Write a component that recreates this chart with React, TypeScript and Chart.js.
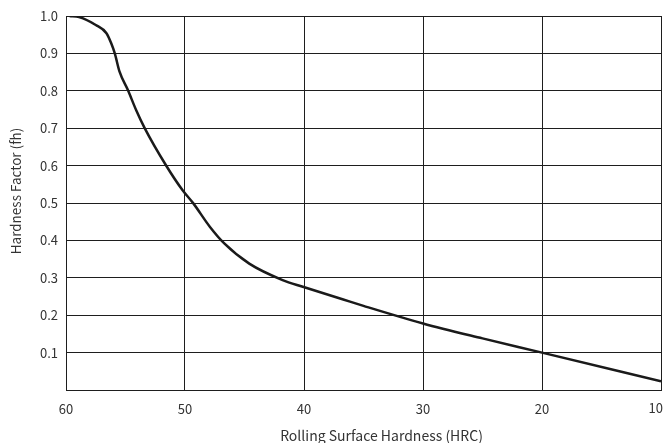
import React, { useEffect, useRef } from "react";
import { Chart, registerables } from "chart.js";

Chart.register(...registerables);

const hardness = [59.7, 58.9, 57.5, 56.6, 56.2, 55.9, 55.5, 54.8, 54.1, 53.4, 51.6, 50.2, 49.3, 47.9, 46.7, 44.6, 41.8, 40.1, 36.7, 35, 30, 25, 20, 10];
const factor = [1.0, 0.997, 0.976, 0.954, 0.927, 0.9, 0.851, 0.802, 0.748, 0.701, 0.601, 0.534, 0.499, 0.436, 0.392, 0.338, 0.294, 0.276, 0.242, 0.225, 0.178, 0.138, 0.1, 0.023];
const xTitle = "Rolling Surface Hardness (HRC)";
const yTitle = "Hardness Factor (fh)";
const xMin = 10;
const xMax = 60;

const FONT = "'Noto Sans CJK SC', 'Noto Sans', sans-serif";
const TEXT = "#333333";
const GRID = "#1e1e1e";

const titlePlugin = {
  id: "customTitles",
  afterDraw(chart: any) {
    const ctx = chart.ctx;
    const xs = chart.scales.x;
    const area = chart.chartArea;
    ctx.save();
    ctx.fillStyle = TEXT;
    // last x tick label, kept inside the canvas
    ctx.font = `13px ${FONT}`;
    ctx.textAlign = "right";
    ctx.textBaseline = "middle";
    ctx.fillText(String(xMin), chart.width, area.bottom + 18);
    // x title
    ctx.font = `14px ${FONT}`;
    ctx.textAlign = "center";
    ctx.textBaseline = "middle";
    ctx.fillText(xTitle, (xs.left + xs.right) / 2 + 18, 436);
    // y title
    ctx.font = `13.5px ${FONT}`;
    ctx.translate(16, (area.top + area.bottom) / 2 - 12);
    ctx.rotate(-Math.PI / 2);
    ctx.fillText(yTitle, 0, 0);
    ctx.restore();
  },
};

export default function App() {
  const ref = useRef<HTMLCanvasElement | null>(null);
  useEffect(() => {
    if (!ref.current) return;
    const chart = new Chart(ref.current, {
      type: "line",
      data: {
        datasets: [
          {
            data: hardness.map((h, i) => ({ x: h, y: factor[i] })),
            borderColor: "#1a1a1a",
            borderWidth: 2.5,
            pointRadius: 0,
            cubicInterpolationMode: "monotone",
            fill: false,
          },
        ],
      },
      plugins: [titlePlugin],
      options: {
        animation: false,
        responsive: false,
        maintainAspectRatio: false,
        layout: { padding: { top: 16, right: 2, left: 0, bottom: 0 } },
        plugins: { legend: { display: false }, tooltip: { enabled: false } },
        scales: {
          x: {
            type: "linear",
            reverse: true,
            min: xMin,
            max: xMax,
            border: { color: GRID, width: 1 },
            grid: { color: GRID, lineWidth: 1, drawTicks: false },
            ticks: {
              stepSize: 10,
              padding: 11,
              maxRotation: 0,
              color: TEXT,
              font: { family: FONT, size: 13 },
              callback: (v: any) => (Number(v) === xMin ? "" : String(v)),
            },
            afterFit: (s: any) => {
              s.height = 53;
              s.paddingLeft = 0;
              s.paddingRight = 0;
            },
          },
          y: {
            type: "linear",
            min: 0,
            max: 1,
            border: { color: GRID, width: 1 },
            grid: { color: GRID, lineWidth: 1, drawTicks: false },
            ticks: {
              stepSize: 0.1,
              padding: 8,
              color: TEXT,
              font: { family: FONT, size: 13 },
              callback: (v: any) => (Math.abs(v) < 1e-9 ? "" : Number(v).toFixed(1)),
            },
            afterFit: (s: any) => {
              s.width = 66;
              s.paddingTop = 0;
              s.paddingBottom = 0;
            },
          },
        },
      },
    });
    return () => chart.destroy();
  }, []);
  return (
    <div style={{ position: "fixed", left: 0, top: 0, width: 663, height: 443, background: "#fff" }}>
      <canvas ref={ref} width={663} height={443} style={{ width: 663, height: 443 }} />
    </div>
  );
}
